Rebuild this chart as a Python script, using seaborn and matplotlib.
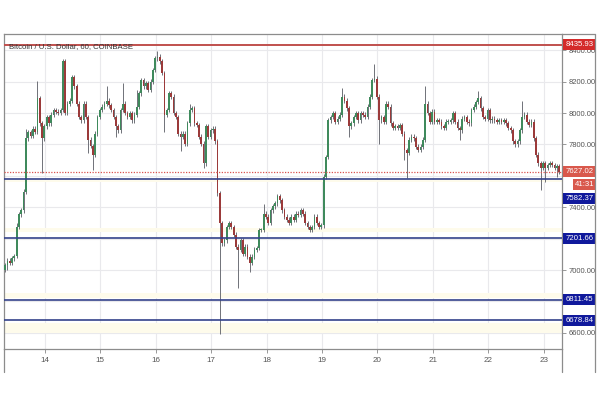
import matplotlib
matplotlib.use('Agg')
import matplotlib.pyplot as plt
import matplotlib.transforms as mtransforms
from matplotlib.patches import Rectangle
from matplotlib.lines import Line2D
import seaborn as sns
import numpy as np
import pandas as pd

### Data (hourly BTC/USD candles)

title = 'Bitcoin / U.S. Dollar, 60, COINBASE'
first_open = 7000
closes = [
    7030, 7060, 7045, 7075, 7090, 7275, 7355, 7380, 7500, 7840, 7880, 7855,
    7900, 7880, 8095, 7935, 7840, 7915, 7975, 7935, 7990, 8020, 8010, 8000,
    8020, 8330, 8000, 8060, 8080, 8230, 8170, 8060, 7975, 7955, 8060, 7975,
    7830, 7790, 7735, 7870, 7975, 8020, 8040, 8060, 8080, 8050, 8020, 7975,
    7915, 7890, 8020, 8060, 8000, 7975, 8000, 7955, 7990, 8040, 8125, 8210,
    8170, 8190, 8150, 8200, 8275, 8350, 8360, 8330, 8255, 7990, 8020, 8125,
    8105, 8000, 7975, 7870, 7850, 7870, 7805, 7935, 8020, 8030, 7935, 7925,
    7850, 7805, 7680, 7915, 7850, 7890, 7900, 7820, 7490, 7300, 7170, 7190,
    7275, 7300, 7275, 7225, 7150, 7130, 7190, 7105, 7150, 7085, 7045, 7085,
    7130, 7140, 7255, 7255, 7360, 7340, 7300, 7380, 7405, 7425, 7470, 7445,
    7380, 7340, 7320, 7300, 7340, 7320, 7360, 7350, 7380, 7360, 7300, 7275,
    7255, 7275, 7340, 7300, 7275, 7285, 7595, 7720, 7955, 7975, 8000, 7945,
    7965, 7990, 8105, 8080, 8030, 7915, 7935, 7975, 8000, 7955, 8000, 7990,
    7975, 8040, 8105, 8210, 8220, 8105, 7955, 7975, 7945, 8060, 8040, 7935,
    7905, 7915, 7905, 7925, 7870, 7765, 7745, 7830, 7850, 7840, 7785, 7765,
    7785, 7830, 8060, 8000, 7945, 8010, 7945, 7955, 7945, 7915, 7905, 7945,
    7945, 7955, 8000, 7945, 7905, 7890, 7965, 7975, 7945, 7935, 8020, 8040,
    8070, 8095, 8030, 7975, 7965, 8020, 7955, 7965, 7955, 7945, 7955, 7945,
    7955, 7935, 7905, 7890, 7820, 7800, 7820, 7890, 7975, 7990, 7945, 7925,
    7945, 7840, 7735, 7680, 7650, 7680, 7650, 7670, 7680, 7670, 7650, 7660,
    7627.02,
]
# long wicks that stand out (candle index -> price)
wick_hi = {5: 7300, 9: 7900, 14: 8205, 25: 8345, 44: 8170, 51: 8190, 57: 8150,
           66: 8395, 71: 8140, 80: 8060, 112: 7420, 146: 8160, 160: 8315,
           182: 8170, 205: 8140, 224: 8075}
wick_lo = {1: 7000, 16: 7618, 36: 7745, 38: 7640, 48: 7850, 69: 7880, 76: 7760,
           86: 7650, 93: 6595, 101: 6885, 106: 6985, 149: 7850, 162: 7805,
           173: 7700, 174: 7585, 197: 7830, 232: 7510, 234: 7560, 239: 7590}
wick_default = 15

start_day = 13.28
day_ticks = list(range(14, 24))
price_ticks = list(range(6600, 8401, 200))
hidden_ticks = [6800, 7200, 7600]   # sit under the level labels
level_top = 8435.93
last_price = 7627.02
countdown = '41:31'
levels_blue = [7582.37, 7201.66, 6811.45, 6678.84]
label_pos_blue = [7459, 7201.66, 6811.45, 6678.84]
bands = [(7560, 7575), (7240, 7270), (6820, 6855), (6600, 6665)]

### Build the candles table

n = len(closes)
opens = [first_open] + closes[:-1]
df = pd.DataFrame({'day': start_day + np.arange(n) / 24, 'open': opens, 'close': closes})
df['high'] = [wick_hi.get(i, max(o, c) + wick_default) for i, (o, c) in enumerate(zip(opens, closes))]
df['low'] = [wick_lo.get(i, min(o, c) - wick_default) for i, (o, c) in enumerate(zip(opens, closes))]
df['up'] = df['close'] >= df['open']
body = df['close'] - df['open']
df['body'] = np.where(body.abs() < 4, 4, body)

### Plot

sns.set_theme(style='white')
plt.rcParams['font.family'] = ['Liberation Sans', 'DejaVu Sans']

fig = plt.figure(figsize=(6, 4), dpi=100)
ax = fig.add_axes([4 / 600, 51 / 400, 558 / 600, 315 / 400])
ax.set_xlim(13.26, 23.332)
ax.set_ylim(6497, 8504)

grid_c = '#e9e9ec'
for d in day_ticks:
    ax.axvline(d, color=grid_c, lw=0.8, zorder=0)
for p in price_ticks:
    ax.axhline(p, color=grid_c, lw=0.8, zorder=0)
for lo, hi in bands:
    ax.axhspan(lo, hi, color='#fefbeb', lw=0, zorder=0.5)

green, red = '#3f8a5c', '#9b3a3a'
ax.vlines(df['day'], df['low'], df['high'], color='#6f7178', lw=0.7, zorder=2)
ax.bar(df['day'], df['body'], bottom=df['open'], width=0.75 / 24,
       color=np.where(df['up'], green, red), linewidth=0, zorder=3)

ax.axhline(level_top, color='#c0504d', lw=1.4, zorder=4)
ax.axhline(last_price, color='#d9534f', lw=0.9, ls=(0, (1, 1.2)), zorder=4)
for lv in levels_blue:
    ax.axhline(lv, color='#34428a', lw=1.2, zorder=4)

ax.text((9 - 4) / 558, (349 - 47) / 315, title, transform=ax.transAxes,
        fontsize=5.6, color='#333333', va='center', ha='left', zorder=6)

# axes
ax.yaxis.tick_right()
ax.set_yticks(price_ticks)
ax.set_yticklabels(['' if p in hidden_ticks else f'{p:.2f}' for p in price_ticks])
ax.set_xticks(day_ticks)
ax.set_xticklabels([str(d) for d in day_ticks])
ax.tick_params(axis='y', length=3, width=0.6, color='#888888', labelsize=5.5,
               labelcolor='#555555', pad=1.5, right=True, left=False)
ax.tick_params(axis='x', length=3, width=0.6, color='#888888', labelsize=5.8,
               labelcolor='#555555', pad=3, bottom=True)
for sp in ax.spines.values():
    sp.set_color('#8c8c8c')
    sp.set_linewidth(0.9)

# price labels on the right scale
trans = mtransforms.blended_transform_factory(fig.transFigure, ax.transData)
box_h = 11 / 0.157


def price_box(y, text, face, x0=563, x1=596):
    ax.add_patch(Rectangle((x0 / 600, y - box_h / 2), (x1 - x0) / 600, box_h, transform=trans,
                           facecolor=face, edgecolor='none', clip_on=False, zorder=6))
    ax.text((x0 + x1) / 2 / 600, y, text, transform=trans, ha='center', va='center',
            color='white', fontsize=5.6, clip_on=False, zorder=7)


price_box(level_top, f'{level_top:.2f}', '#d42b2b')
price_box(last_price, f'{last_price:.2f}', '#d9584c')
price_box(7548, countdown, '#d9584c', x0=573)
for lv, pos in zip(levels_blue, label_pos_blue):
    price_box(pos, f'{lv:.2f}', '#10199c')

# outer frame of the widget
frame_c = '#8c8c8c'
fig.add_artist(Line2D([562 / 600, 595 / 600], [366 / 400, 366 / 400], color=frame_c, lw=0.9))
fig.add_artist(Line2D([595 / 600, 595 / 600], [28 / 400, 366 / 400], color=frame_c, lw=0.9))
fig.add_artist(Line2D([4 / 600, 4 / 600], [28 / 400, 51 / 400], color=frame_c, lw=0.9))
fig.add_artist(Line2D([562 / 600, 562 / 600], [28 / 400, 51 / 400], color=frame_c, lw=0.9))

fig.savefig('out.png', dpi=100, facecolor='white')
